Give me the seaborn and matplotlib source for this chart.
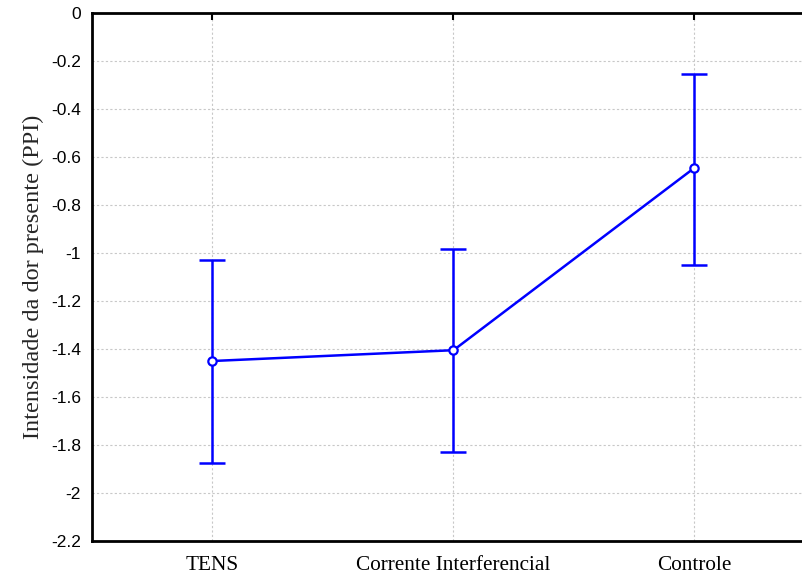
import matplotlib
matplotlib.use("Agg")
import matplotlib.pyplot as plt
import seaborn as sns
import pandas as pd
import numpy as np

categories = ["TENS", "Corrente Interferencial", "Controle"]
means = [-1.45, -1.405, -0.645]
upper = [-1.03, -0.985, -0.255]
lower = [-1.875, -1.83, -1.05]
yticks = [0, -0.2, -0.4, -0.6, -0.8, -1, -1.2, -1.4, -1.6, -1.8, -2, -2.2]
ytick_labels = ["0", "-0.2", "-0.4", "-0.6", "-0.8", "-1", "-1.2", "-1.4", "-1.6", "-1.8", "-2", "-2.2"]
ylabel = "Intensidade da dor presente (PPI)"

sns.set_style("white")
plt.rcParams['font.family'] = ['Liberation Sans', 'DejaVu Sans']

df = pd.DataFrame({"grupo": categories, "valor": means})

fig = plt.figure(figsize=(8.03, 5.78), dpi=100)
W, H = 803, 578
x0, x1, y0, y1 = 92, 815, 13, 541
ax = fig.add_axes([x0 / W, 1 - y1 / H, (x1 - x0) / W, (y1 - y0) / H])

blue = "#0000ff"
sns.pointplot(data=df, x="grupo", y="valor", ax=ax, color=blue, errorbar=None,
              markers="o", linestyles="-", markersize=0, linewidth=1.8)
xs = np.arange(len(categories))
m = np.array(means)
ax.errorbar(xs, m, yerr=[m - np.array(lower), np.array(upper) - m], fmt="none",
            ecolor=blue, elinewidth=1.8, capsize=9.5, capthick=1.8, zorder=3)
ax.plot(xs, m, linestyle="none", marker="o", markersize=6, markerfacecolor="white",
        markeredgecolor=blue, markeredgewidth=1.6, zorder=5)

ax.set_xlim(-0.5, 2.5)
ax.set_ylim(-2.2, 0)
ax.set_yticks(yticks)
ax.set_yticklabels(ytick_labels, fontsize=12.5, family=['Liberation Sans'])
ax.set_xticks(xs)
ax.set_xticklabels(categories, fontsize=15.3, family=['Liberation Serif'])
ax.set_xlabel("")
ax.set_ylabel(ylabel, fontsize=17.5, family=['Liberation Serif'], labelpad=5)

ax.grid(True, linestyle=(0, (2, 2)), color="#c8c8c8", linewidth=0.8)
ax.set_axisbelow(True)
for s in ax.spines.values():
    s.set_color("black")
    s.set_linewidth(2)
ax.tick_params(axis="y", direction="out", length=4, width=1.5, colors="black", pad=4)
ax.tick_params(axis="x", direction="in", length=5, width=1.5, colors="black", pad=11, top=True)

fig.savefig("out.png", dpi=100)
